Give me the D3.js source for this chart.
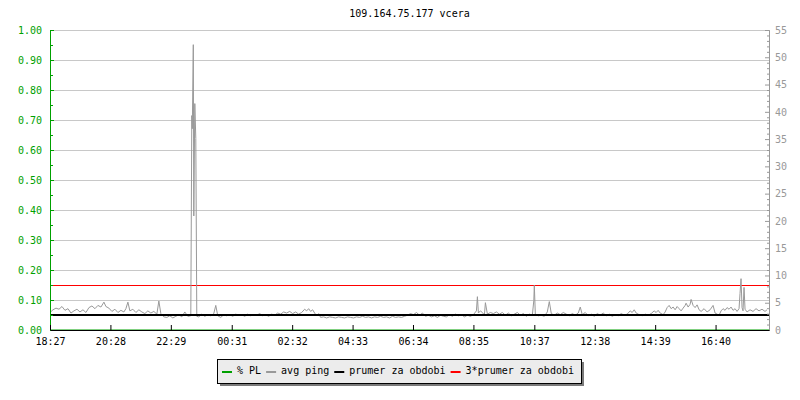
<!DOCTYPE html>
<html>
<head>
<meta charset="utf-8">
<script src="https://cdnjs.cloudflare.com/ajax/libs/d3/7.8.5/d3.min.js"></script>
<style>
body { margin: 0; background: #fff; }
text { font-family: "DejaVu Sans Mono", monospace; font-size: 10px; }
</style>
</head>
<body>
<div id="chart"></div>
<script>
var title = "109.164.75.177 vcera";
var timeLabels = ["18:27", "20:28", "22:29", "00:31", "02:32", "04:33", "06:34", "08:35", "10:37", "12:38", "14:39", "16:40"];
var plTicks = [0, 0.1, 0.2, 0.3, 0.4, 0.5, 0.6, 0.7, 0.8, 0.9, 1.0];
var pingTicks = [0, 5, 10, 15, 20, 25, 30, 35, 40, 45, 50, 55];
var legendLabels = ["% PL", "avg ping", "prumer za obdobi", "3*prumer za obdobi"];
var legendColors = ["#00a000", "#999999", "#000000", "#ff0000"];

// minutes since 18:27, avg ping in ms
var pingData = [
[0,3.3],[6,3.8],[12,4.1],[18,3.9],[24,4.4],[30,3.7],[36,4.0],[42,3.2],[48,3.6],[54,3.9],
[60,3.4],[66,3.8],[72,3.3],[78,4.2],[84,4.5],[90,4.0],[96,4.6],[102,4.3],[108,5.2],[112,4.4],
[118,4.1],[124,3.5],[130,3.9],[136,3.3],[142,3.7],[148,3.4],[152,4.0],[156,5.2],[160,3.6],[166,3.9],
[172,3.3],[178,3.8],[184,3.4],[190,3.1],[196,3.6],[202,3.2],[208,3.5],[214,3.0],[218,5.4],[222,3.1],
[228,2.5],[234,2.4],[240,2.7],[246,2.3],[252,2.6],[258,2.9],[264,2.5],[270,3.4],[276,2.6],[282,2.7],
[284,39.4],[285,37.0],[287,52.4],[288,21.0],[290,41.6],[292,35.2],[294,2.6],
[298,2.5],[304,3.0],[310,2.6],[316,2.9],[322,2.7],[328,3.1],[332,4.6],[336,2.7],[342,2.4],
[348,2.9],[354,2.7],[360,2.9],[366,2.6],[372,3.0],[378,2.8],[384,2.9],[390,2.6],[396,3.0],[402,2.7],
[408,2.9],[414,2.8],[420,3.1],[426,2.7],[432,2.9],[438,2.6],[444,3.0],[450,2.8],[456,3.2],[462,3.0],
[468,3.4],[474,3.2],[480,3.5],[486,3.1],[492,3.4],[498,3.0],[504,3.3],[510,3.9],[514,3.6],[518,4.0],
[522,3.5],[526,3.8],[530,3.2],[534,2.7],[538,3.1],[542,2.4],[548,2.5],[554,2.3],[560,2.5],[566,2.4],
[572,2.3],[578,2.5],[584,2.4],[590,2.3],[596,2.5],[602,2.4],[608,2.3],[614,2.5],[620,2.4],[626,2.6],
[632,2.4],[638,2.5],[644,2.3],[650,2.5],[656,2.4],[662,2.6],[668,2.4],[674,2.5],[680,2.3],[686,2.6],
[692,2.4],[698,2.5],[704,2.4],[710,2.6],[716,2.8],[722,3.1],[728,2.9],[734,3.3],[740,2.8],[746,3.2],
[752,2.6],[758,2.8],[764,2.5],[770,2.7],[776,2.4],[782,2.8],[788,2.6],[794,2.5],[800,2.9],[806,2.6],
[812,3.0],[818,2.7],[824,2.9],[830,2.5],[836,2.8],[842,2.6],[848,2.9],[854,3.6],[856,6.2],[858,3.2],
[862,3.6],[866,3.3],[870,2.8],[872,5.1],[876,3.0],[882,3.3],[888,3.1],[894,3.4],[900,3.0],[906,3.3],
[912,2.8],[918,3.2],[924,2.7],[930,3.0],[936,3.3],[942,2.8],[948,3.1],[954,2.6],[960,3.0],[966,2.8],
[969,5.5],[970,8.3],[972,3.0],[978,2.7],[984,2.8],[990,2.6],[996,3.4],[1000,5.3],[1004,3.1],[1010,2.8],
[1016,3.2],[1022,2.9],[1028,3.3],[1034,3.0],[1040,2.7],[1046,3.1],[1052,2.8],[1058,3.2],[1062,4.3],[1066,2.9],
[1072,3.3],[1078,2.7],[1084,3.0],[1090,2.6],[1096,3.1],[1102,2.8],[1108,3.2],[1114,2.7],[1120,3.0],[1126,2.6],
[1132,2.9],[1138,2.7],[1144,3.1],[1150,2.8],[1156,3.0],[1162,3.6],[1166,3.3],[1170,3.8],[1174,3.2],[1180,2.9],
[1186,2.7],[1192,3.0],[1198,2.8],[1204,3.1],[1210,3.6],[1214,3.3],[1218,3.7],[1222,3.2],[1228,2.9],[1232,3.4],
[1236,4.2],[1240,4.6],[1244,4.0],[1248,4.3],[1252,3.8],[1256,4.4],[1260,4.0],[1264,3.6],[1268,4.1],[1272,4.6],
[1274,5.0],[1278,4.3],[1282,4.8],[1284,5.7],[1288,4.6],[1292,4.2],[1296,4.7],[1300,3.8],[1304,3.5],[1310,4.0],
[1316,3.4],[1322,3.8],[1328,4.6],[1332,3.2],[1336,3.0],[1340,2.8],[1344,3.6],[1348,4.0],[1352,3.7],[1356,4.2],
[1360,3.9],[1364,4.3],[1368,3.7],[1372,4.0],[1376,3.5],[1380,4.0],[1382,6.8],[1384,9.5],[1386,4.2],[1388,3.6],
[1390,7.9],[1392,3.9],[1396,3.4],[1402,3.8],[1408,3.5],[1414,4.0],[1420,3.6],[1426,3.9],[1432,3.5],[1436,3.8]
];
var plData = [[0, 0], [1440, 0]];
var avgPing = 2.75;

var start = new Date(2024, 0, 1, 18, 27);
function atMinute(m) { return new Date(start.getTime() + m * 60000); }
function labelDate(s) {
    var p = s.split(":"), d = new Date(2024, 0, 1, +p[0], +p[1]);
    if (d < start) d = new Date(d.getTime() + 86400000);
    return d;
}

var padding = { left: 50, top: 30, right: 769, bottom: 330 };

var svg = d3.select("#chart").append("svg")
    .attr("width", 800)
    .attr("height", 400)
    .style("background", "#fff");

var x = d3.scaleTime()
    .domain([start, atMinute(1440)])
    .range([padding.left, padding.right]);
var yPL = d3.scaleLinear().domain([0, 1]).range([padding.bottom, padding.top]);
var yPing = d3.scaleLinear().domain([0, 55]).range([padding.bottom, padding.top]);

svg.append("text")
    .attr("x", (padding.left + padding.right) / 2)
    .attr("y", 17)
    .attr("text-anchor", "middle")
    .attr("fill", "#000")
    .text(title);

// grid
var grid = svg.append("g")
    .attr("transform", "translate(" + padding.left + ",0)")
    .call(d3.axisLeft(yPL).tickValues(plTicks.slice(1)).tickSize(-(padding.right - padding.left)).tickFormat(""));
grid.select(".domain").remove();
grid.selectAll("line").style("stroke", "#c8c8c8");

function flat(v) {
    return [[start, v], [atMinute(1440), v]];
}
var hline = d3.line().x(function(d) { return x(d[0]); }).y(function(d) { return yPing(d[1]); });

// half pixel shift so 1px lines land on a single row
var marks = svg.append("g").attr("transform", "translate(0,0.5)");

marks.append("path")
    .attr("d", hline(flat(avgPing * 3)))
    .style("fill", "none").style("stroke", legendColors[3]).style("stroke-width", 1);

var pingLine = d3.line()
    .x(function(d) { return x(atMinute(d[0])); })
    .y(function(d) { return yPing(d[1]); });

marks.append("path")
    .datum(pingData)
    .attr("d", pingLine)
    .style("fill", "none").style("stroke", legendColors[1]).style("stroke-width", 1);

svg.append("path")
    .attr("d", hline(flat(avgPing)))
    .style("fill", "none").style("stroke", legendColors[2]).style("stroke-width", 2);

svg.append("path")
    .datum(plData)
    .attr("d", d3.line().x(function(d) { return x(atMinute(d[0])); }).y(function(d) { return yPL(d[1]); }))
    .style("fill", "none").style("stroke", legendColors[0]).style("stroke-width", 1);

// axes
function styleAxis(g, col, textCol) {
    g.attr("font-family", null).attr("font-size", null);
    g.selectAll("path, line").style("stroke", col);
    g.selectAll("text").style("fill", textCol);
}
var minorPL = [0.05, 0.15, 0.25, 0.35, 0.45, 0.55, 0.65, 0.75, 0.85, 0.95];
svg.append("g")
    .attr("transform", "translate(" + padding.left + ",0)")
    .call(d3.axisLeft(yPL).tickValues(minorPL).tickSize(-3).tickFormat(""))
    .call(styleAxis, "#00a000", "#00a000");
svg.append("g")
    .attr("transform", "translate(" + padding.left + ",0)")
    .call(d3.axisLeft(yPL).tickValues(plTicks).tickSize(-4).tickSizeOuter(0).tickPadding(8).tickFormat(d3.format(".2f")))
    .call(styleAxis, "#00a000", "#00a000");

var minorPing = d3.range(0, 56).filter(function(v) { return v % 5 !== 0; });
svg.append("g")
    .attr("transform", "translate(" + padding.right + ",0)")
    .call(d3.axisRight(yPing).tickValues(minorPing).tickSize(-2).tickFormat(""))
    .call(styleAxis, "#999999", "#999999");
svg.append("g")
    .attr("transform", "translate(" + padding.right + ",0)")
    .call(d3.axisRight(yPing).tickValues(pingTicks).tickSize(-4).tickSizeOuter(0).tickPadding(6))
    .call(styleAxis, "#999999", "#999999");

svg.append("g")
    .attr("transform", "translate(0," + padding.bottom + ")")
    .call(d3.axisBottom(x).tickValues(timeLabels.map(labelDate)).tickFormat(d3.timeFormat("%H:%M"))
        .tickSize(-5).tickSizeOuter(0).tickPadding(8))
    .call(styleAxis, "#000", "#000");

// legend
var legend = svg.append("g");
legend.append("rect")
    .attr("x", 220).attr("y", 362).attr("width", 364).attr("height", 24)
    .style("fill", "#7a7a7a");
legend.append("rect")
    .attr("x", 217.5).attr("y", 359.5).attr("width", 364).attr("height", 24)
    .style("fill", "#ececec").style("stroke", "#000");

var lx = 222;
legendLabels.forEach(function(label, i) {
    legend.append("rect")
        .attr("x", lx).attr("y", 371).attr("width", 10).attr("height", 2)
        .style("fill", legendColors[i]);
    var t = legend.append("text")
        .attr("x", lx + 15).attr("y", 374)
        .style("fill", "#000")
        .text(label);
    lx += 15 + t.node().getComputedTextLength() + 5;
});
</script>
</body>
</html>
